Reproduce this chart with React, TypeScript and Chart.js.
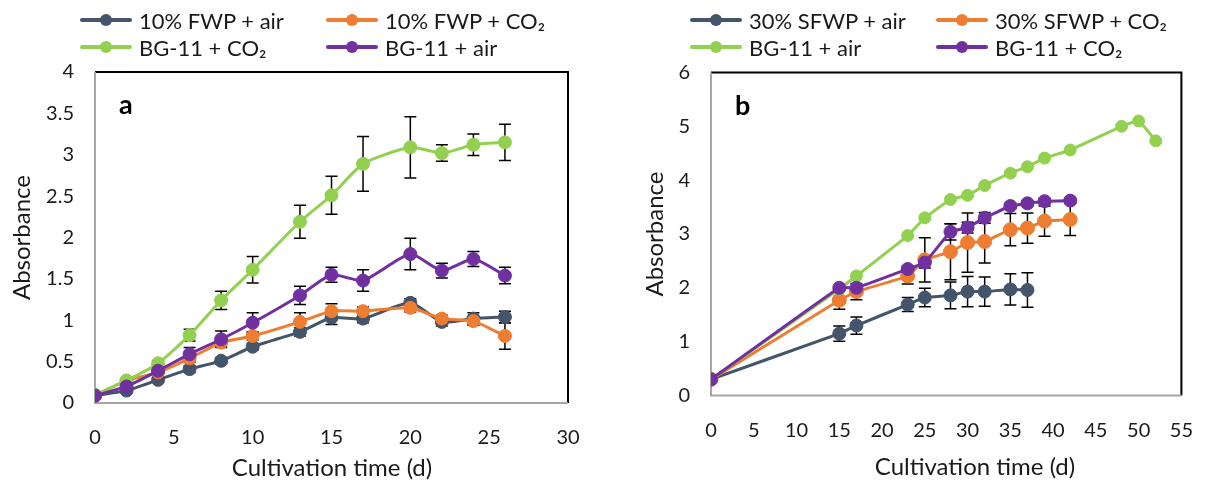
import React, { useEffect, useRef } from "react";
import { Chart, registerables } from "chart.js";

Chart.register(...registerables);

const FONT = "Lato, 'Open Sans', sans-serif";
const TEXT = "#1a1a1a";
const NAVY = "#44546A";
const ORANGE = "#ED7D31";
const GREEN = "#92D050";
const PURPLE = "#7030A0";

// ---------- Panel a ----------
const daysA = [0, 2, 4, 6, 8, 10, 13, 15, 17, 20, 22, 24, 26];
const fwpAir = [0.09, 0.15, 0.28, 0.41, 0.51, 0.68, 0.86, 1.03, 1.02, 1.21, 0.98, 1.02, 1.04];
const fwpAirErr = [0, 0.02, 0.03, 0.04, 0.04, 0.04, 0.05, 0.08, 0.05, 0.05, 0.05, 0.07, 0.07];
const fwpCo2 = [0.09, 0.27, 0.37, 0.54, 0.73, 0.81, 0.98, 1.11, 1.11, 1.15, 1.02, 0.99, 0.81];
const fwpCo2Err = [0, 0.02, 0.03, 0.05, 0.05, 0.05, 0.11, 0.09, 0.05, 0.05, 0.04, 0.05, 0.16];
const bgCo2A = [0.1, 0.27, 0.48, 0.82, 1.24, 1.61, 2.19, 2.51, 2.89, 3.09, 3.02, 3.12, 3.15];
const bgCo2AErr = [0, 0.02, 0.03, 0.07, 0.11, 0.16, 0.2, 0.23, 0.33, 0.37, 0.1, 0.13, 0.22];
const bgAirA = [0.09, 0.2, 0.39, 0.59, 0.77, 0.97, 1.3, 1.55, 1.48, 1.8, 1.6, 1.74, 1.54];
const bgAirAErr = [0, 0.02, 0.03, 0.08, 0.1, 0.12, 0.11, 0.09, 0.13, 0.19, 0.09, 0.09, 0.1];
const xTicksA = [0, 5, 10, 15, 20, 25, 30];
const yTicksA = [0, 0.5, 1, 1.5, 2, 2.5, 3, 3.5, 4];

// ---------- Panel b ----------
const daysSfwpAir = [0, 15, 17, 23, 25, 28, 30, 32, 35, 37];
const sfwpAir = [0.3, 1.15, 1.3, 1.69, 1.82, 1.86, 1.93, 1.93, 1.97, 1.96];
const sfwpAirErr = [0, 0.14, 0.16, 0.13, 0.17, 0.25, 0.28, 0.27, 0.29, 0.32];
const daysSfwpCo2 = [0, 15, 17, 23, 25, 28, 30, 32, 35, 37, 39, 42];
const sfwpCo2 = [0.3, 1.77, 1.93, 2.22, 2.52, 2.67, 2.84, 2.86, 3.08, 3.11, 3.24, 3.27];
const sfwpCo2Err = [0, 0.17, 0.15, 0.15, 0.41, 0.52, 0.55, 0.4, 0.3, 0.28, 0.28, 0.3];
const daysBgAirB = [0, 15, 17, 23, 25, 28, 30, 32, 35, 37, 39, 42, 48, 50, 52];
const bgAirB = [0.3, 1.98, 2.22, 2.97, 3.3, 3.64, 3.72, 3.9, 4.13, 4.25, 4.41, 4.56, 5.0, 5.1, 4.73];
const bgAirBErr = [0, 0, 0, 0, 0, 0, 0, 0, 0, 0, 0, 0, 0, 0, 0];
const daysBgCo2B = [0, 15, 17, 23, 25, 28, 30, 32, 35, 37, 39, 42];
const bgCo2B = [0.3, 2.0, 2.0, 2.35, 2.47, 3.04, 3.12, 3.3, 3.52, 3.57, 3.61, 3.62];
const bgCo2BErr = [0, 0, 0, 0.05, 0.1, 0.15, 0.1, 0.1, 0.05, 0.05, 0.05, 0.05];
const xTicksB = [0, 5, 10, 15, 20, 25, 30, 35, 40, 45, 50, 55];
const yTicksB = [0, 1, 2, 3, 4, 5, 6];

const X_TITLE = "Cultivation time (d)";
const Y_TITLE = "Absorbance";

type Series = {
  label: string;
  color: string;
  days: number[];
  values: number[];
  errors: number[];
  radius: number;
};

type PanelSpec = {
  tag: string;
  series: Series[];
  xTicks: number[];
  yTicks: number[];
  left: number;
  width: number;
  area: { left: number; right: number; top: number; bottom: number };
  yTitleX: number;
  xTitleX: number;
  xTitleY: number;
  tickPadX: number;
  tension: number;
  legendPos: { x: number; y: number }[];
};

const H = 487;

const panelA: PanelSpec = {
  tag: "a",
  series: [
    { label: "10% FWP + air", color: NAVY, days: daysA, values: fwpAir, errors: fwpAirErr, radius: 6.5 },
    { label: "10% FWP + CO₂", color: ORANGE, days: daysA, values: fwpCo2, errors: fwpCo2Err, radius: 6.5 },
    { label: "BG-11 + CO₂", color: GREEN, days: daysA, values: bgCo2A, errors: bgCo2AErr, radius: 6.5 },
    { label: "BG-11 + air", color: PURPLE, days: daysA, values: bgAirA, errors: bgAirAErr, radius: 6.5 },
  ],
  xTicks: xTicksA,
  yTicks: yTicksA,
  left: 0,
  width: 605,
  area: { left: 95, right: 568, top: 72, bottom: 403 },
  yTitleX: 22,
  xTitleX: 332,
  xTitleY: 468,
  tickPadX: 23,
  tension: 0.2,
  legendPos: [
    { x: 80, y: 20 },
    { x: 326, y: 20 },
    { x: 80, y: 47 },
    { x: 326, y: 47 },
  ],
};

const panelB: PanelSpec = {
  tag: "b",
  series: [
    { label: "30% SFWP + air", color: NAVY, days: daysSfwpAir, values: sfwpAir, errors: sfwpAirErr, radius: 6.5 },
    { label: "30% SFWP + CO₂", color: ORANGE, days: daysSfwpCo2, values: sfwpCo2, errors: sfwpCo2Err, radius: 7 },
    { label: "BG-11 + air", color: GREEN, days: daysBgAirB, values: bgAirB, errors: bgAirBErr, radius: 6 },
    { label: "BG-11 + CO₂", color: PURPLE, days: daysBgCo2B, values: bgCo2B, errors: bgCo2BErr, radius: 6.5 },
  ],
  xTicks: xTicksB,
  yTicks: yTicksB,
  left: 610,
  width: 606,
  area: { left: 711, right: 1196, top: 72.5, bottom: 395.5 },
  yTitleX: 655,
  xTitleX: 975,
  xTitleY: 467,
  tickPadX: 23,
  tension: 0.1,
  legendPos: [
    { x: 690, y: 20 },
    { x: 936, y: 20 },
    { x: 690, y: 47 },
    { x: 936, y: 47 },
  ],
};

function makeDecorPlugin(spec: PanelSpec) {
  return {
    id: "decor",
    beforeDatasetsDraw(chart: any) {
      const { ctx, chartArea } = chart;
      const { left, right, top, bottom } = chartArea;
      ctx.save();
      // frame
      ctx.lineWidth = 2;
      ctx.strokeStyle = "#000000";
      ctx.beginPath();
      ctx.moveTo(left, top);
      ctx.lineTo(right, top);
      ctx.lineTo(right, bottom);
      ctx.stroke();
      ctx.strokeStyle = "#A6A6A6";
      ctx.beginPath();
      ctx.moveTo(left, top);
      ctx.lineTo(left, bottom);
      ctx.lineTo(right, bottom);
      ctx.stroke();
      // tag
      ctx.fillStyle = "#000";
      ctx.font = `bold 27px ${FONT}`;
      ctx.textAlign = "left";
      ctx.textBaseline = "alphabetic";
      ctx.fillText(spec.tag, left + 24, top + 42);
      // error bars
      const xs = chart.scales.x;
      const ys = chart.scales.y;
      ctx.strokeStyle = "#000";
      ctx.lineWidth = 1.5;
      chart.data.datasets.forEach((ds: any) => {
        const errs: number[] = ds.errors || [];
        ds.data.forEach((p: any, i: number) => {
          const e = errs[i] || 0;
          if (e <= 0.025) return;
          const px = xs.getPixelForValue(p.x);
          const y1 = ys.getPixelForValue(p.y + e);
          const y2 = ys.getPixelForValue(p.y - e);
          ctx.beginPath();
          ctx.moveTo(px, y1);
          ctx.lineTo(px, y2);
          ctx.moveTo(px - 6, y1);
          ctx.lineTo(px + 6, y1);
          ctx.moveTo(px - 6, y2);
          ctx.lineTo(px + 6, y2);
          ctx.stroke();
        });
      });
      ctx.restore();
    },
    afterDraw(chart: any) {
      const { ctx } = chart;
      ctx.save();
      ctx.fillStyle = TEXT;
      ctx.font = `24px ${FONT}`;
      ctx.textAlign = "center";
      ctx.textBaseline = "middle";
      ctx.fillText(X_TITLE, spec.xTitleX - spec.left, spec.xTitleY);
      const midY = (spec.area.top + spec.area.bottom) / 2;
      ctx.translate(spec.yTitleX - spec.left, midY);
      ctx.rotate(-Math.PI / 2);
      ctx.fillText(Y_TITLE, 0, 0);
      ctx.restore();
    },
  };
}

function Panel({ spec }: { spec: PanelSpec }) {
  const ref = useRef<HTMLCanvasElement | null>(null);
  useEffect(() => {
    if (!ref.current) return;
    const a = spec.area;
    const n = spec.series.length;
    const chart = new Chart(ref.current, {
      type: "line",
      data: {
        datasets: spec.series.map((s, i) => ({
          label: s.label,
          data: s.days.map((d, j) => ({ x: d, y: s.values[j] })),
          errors: s.errors,
          borderColor: s.color,
          backgroundColor: s.color,
          pointBackgroundColor: s.color,
          pointBorderColor: s.color,
          pointBorderWidth: 1,
          pointRadius: s.radius,
          borderWidth: 3,
          tension: spec.tension,
          order: n - 1 - i,
        })) as any,
      },
      options: {
        animation: false,
        responsive: false,
        maintainAspectRatio: false,
        events: [],
        layout: {
          padding: {
            left: 0,
            top: a.top,
            right: spec.width - (a.right - spec.left),
            bottom: 0,
          },
        },
        plugins: {
          legend: { display: false },
          tooltip: { enabled: false },
        },
        scales: {
          x: {
            type: "linear",
            min: spec.xTicks[0],
            max: spec.xTicks[spec.xTicks.length - 1],
            grid: { display: false, drawTicks: false },
            border: { display: false },
            ticks: {
              color: TEXT,
              font: { family: FONT, size: 20 },
              padding: spec.tickPadX,
              maxRotation: 0,
              autoSkip: false,
              callback: (v: any) => String(v),
            },
            afterBuildTicks: (sc: any) => {
              sc.ticks = spec.xTicks.map((v) => ({ value: v }));
            },
            afterFit: (sc: any) => {
              sc.height = H - a.bottom;
            },
          },
          y: {
            type: "linear",
            min: spec.yTicks[0],
            max: spec.yTicks[spec.yTicks.length - 1],
            grid: { display: false, drawTicks: false },
            border: { display: false },
            ticks: {
              color: TEXT,
              font: { family: FONT, size: 20 },
              padding: 21,
              autoSkip: false,
              callback: (v: any) => String(v),
            },
            afterBuildTicks: (sc: any) => {
              sc.ticks = spec.yTicks.map((v) => ({ value: v }));
            },
            afterFit: (sc: any) => {
              sc.width = a.left - spec.left;
            },
          },
        },
      } as any,
      plugins: [makeDecorPlugin(spec)],
    });
    return () => chart.destroy();
  }, [spec]);

  return (
    <>
      <canvas
        ref={ref}
        width={spec.width}
        height={H}
        style={{ position: "absolute", left: spec.left, top: 0, width: spec.width, height: H }}
      />
      {spec.series.map((s, i) => {
        const p = spec.legendPos[i];
        return (
          <div
            key={s.label}
            style={{
              position: "absolute",
              left: p.x,
              top: p.y - 14,
              height: 28,
              display: "flex",
              alignItems: "center",
              whiteSpace: "nowrap",
              fontFamily: FONT,
              fontSize: 22,
              color: TEXT,
            }}
          >
            <span style={{ position: "relative", width: 52, height: 28, display: "inline-block" }}>
              <span
                style={{
                  position: "absolute",
                  left: 0,
                  top: 12,
                  width: 52,
                  height: 4,
                  background: s.color,
                  borderRadius: 2,
                }}
              />
              <span
                style={{
                  position: "absolute",
                  left: 20,
                  top: 8,
                  width: 12,
                  height: 12,
                  background: s.color,
                  borderRadius: "50%",
                }}
              />
            </span>
            <span style={{ marginLeft: 7 }}>{s.label}</span>
          </div>
        );
      })}
    </>
  );
}

export default function App() {
  return (
    <div
      style={{
        position: "fixed",
        left: 0,
        top: 0,
        width: 1216,
        height: H,
        background: "#ffffff",
        overflow: "hidden",
      }}
    >
      <Panel spec={panelA} />
      <Panel spec={panelB} />
    </div>
  );
}
